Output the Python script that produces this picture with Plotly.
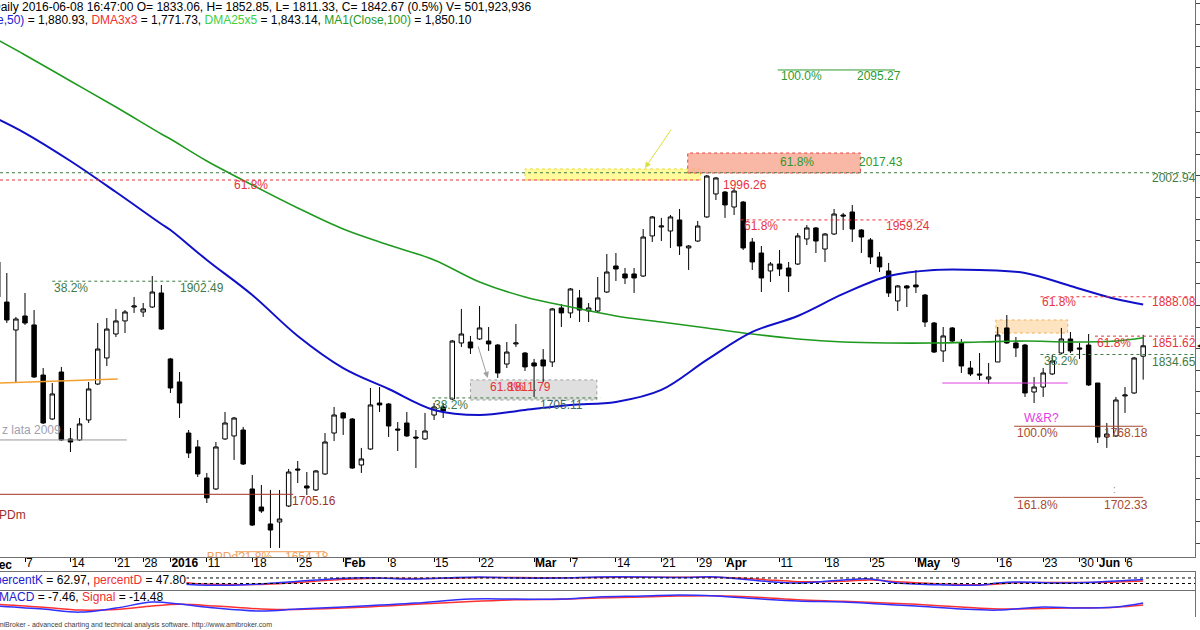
import plotly.graph_objects as go

# ---------------- data (trading-day index, 0 = 2015-12-07) ----------------
idx = list(range(-3, 124))
open_ = [1920.3, 1883.2, 1857.3, 1870.3, 1862.0, 1815.6, 1774.9, 1818.4, 1756.4, 1755.5,
         1774.0, 1807.3, 1831.4, 1853.6, 1865.7, 1878.6, 1874.0, 1878.6, 1891.6, 1830.5,
         1809.2, 1761.9, 1749.0, 1720.3, 1710.1, 1756.4, 1759.2, 1764.7, 1710.1, 1693.4,
         1677.7, 1679.5, 1694.3, 1728.6, 1712.9, 1709.2, 1724.0, 1761.9, 1780.5, 1774.9,
         1732.3, 1747.1, 1789.7, 1788.8, 1765.6, 1771.2, 1758.2, 1756.4, 1778.6, 1786.0,
         1793.4, 1845.3, 1846.2, 1849.0, 1847.1, 1843.4, 1825.8, 1844.4, 1836.0, 1826.8,
         1829.6, 1827.7, 1877.7, 1873.1, 1887.0, 1874.9, 1874.9, 1892.5, 1916.6, 1909.2,
         1909.2, 1907.3, 1944.4, 1952.7, 1949.0, 1959.2, 1933.3, 1939.7, 1962.0, 1983.3,
         1985.1, 1971.2, 1975.8, 1938.8, 1928.6, 1912.0, 1918.4, 1914.7, 1918.4, 1941.6,
         1951.8, 1932.3, 1946.2, 1963.8, 1966.6, 1949.9, 1940.7, 1924.9, 1912.0, 1884.2,
         1898.1, 1899.0, 1889.7, 1863.8, 1837.9, 1859.2, 1845.3, 1822.1, 1816.6, 1811.9,
         1827.7, 1859.2, 1845.3, 1843.4, 1799.9, 1804.5, 1816.6, 1836.0, 1849.0, 1840.7,
         1843.4, 1808.2, 1758.2, 1759.2, 1796.2, 1799.0, 1833.06]
high_ = [1926.8, 1910.1, 1869.4, 1891.6, 1875.8, 1822.1, 1808.2, 1823.1, 1766.6, 1775.8,
         1809.2, 1863.8, 1868.4, 1876.8, 1875.8, 1887.9, 1882.3, 1907.3, 1899.0, 1831.4,
         1818.4, 1764.7, 1755.5, 1724.9, 1753.6, 1781.4, 1776.8, 1767.5, 1723.0, 1713.8,
         1709.2, 1709.2, 1728.6, 1736.0, 1725.8, 1727.7, 1761.9, 1786.0, 1781.4, 1775.8,
         1748.1, 1803.6, 1804.5, 1789.7, 1772.1, 1781.4, 1764.7, 1780.5, 1789.7, 1789.7,
         1848.1, 1876.8, 1851.8, 1879.5, 1860.1, 1844.4, 1846.2, 1862.9, 1836.9, 1830.5,
         1839.7, 1877.7, 1881.4, 1896.2, 1894.4, 1882.3, 1906.4, 1927.7, 1928.6, 1914.7,
         1914.7, 1950.8, 1962.9, 1961.1, 1963.8, 1969.4, 1936.0, 1958.3, 2000.9, 1999.0,
         1986.0, 1988.8, 1976.8, 1942.5, 1935.1, 1920.3, 1931.4, 1920.3, 1947.1, 1954.5,
         1952.7, 1947.1, 1969.4, 1965.7, 1973.1, 1950.8, 1942.5, 1929.5, 1919.4, 1899.0,
         1899.0, 1912.9, 1890.7, 1864.7, 1860.1, 1860.1, 1849.0, 1828.6, 1836.0, 1826.8,
         1860.1, 1871.2, 1850.8, 1844.4, 1813.8, 1822.1, 1834.2, 1859.2, 1855.5, 1845.3,
         1853.6, 1808.2, 1771.2, 1795.3, 1804.5, 1832.3, 1852.85]
low_ = [1886.0, 1863.8, 1808.2, 1862.0, 1812.9, 1770.3, 1774.0, 1754.5, 1744.3, 1754.5,
        1771.2, 1806.4, 1824.0, 1850.8, 1854.5, 1873.1, 1869.4, 1877.7, 1857.3, 1799.0,
        1775.8, 1738.8, 1721.2, 1697.1, 1709.2, 1755.5, 1737.0, 1732.3, 1675.8, 1687.9,
        1655.5, 1655.5, 1693.4, 1715.6, 1704.5, 1708.2, 1723.0, 1754.5, 1760.1, 1728.6,
        1724.9, 1746.2, 1781.4, 1758.2, 1745.3, 1758.2, 1729.5, 1755.5, 1774.0, 1775.8,
        1792.5, 1841.6, 1835.1, 1848.1, 1837.9, 1812.9, 1822.1, 1841.6, 1819.4, 1795.3,
        1809.2, 1823.1, 1860.1, 1868.4, 1864.7, 1864.7, 1874.0, 1891.6, 1902.7, 1899.9,
        1891.6, 1906.4, 1938.8, 1939.7, 1933.3, 1926.8, 1912.9, 1938.8, 1961.1, 1977.7,
        1961.1, 1963.8, 1931.4, 1912.9, 1892.5, 1901.8, 1907.3, 1892.5, 1917.5, 1936.0,
        1928.6, 1920.3, 1945.3, 1949.9, 1938.8, 1928.6, 1918.4, 1911.0, 1887.9, 1874.9,
        1878.6, 1891.6, 1860.1, 1836.0, 1827.7, 1846.2, 1817.5, 1814.7, 1811.0, 1807.3,
        1827.7, 1844.4, 1832.3, 1795.3, 1789.7, 1795.3, 1815.6, 1835.1, 1836.0, 1830.5,
        1805.5, 1752.7, 1748.1, 1758.2, 1780.5, 1798.1, 1811.33]
close_ = [1887.9, 1866.6, 1867.5, 1863.8, 1813.8, 1771.2, 1798.1, 1755.5, 1753.6, 1770.3,
          1802.7, 1839.7, 1858.2, 1865.7, 1874.0, 1879.5, 1876.8, 1892.5, 1858.2, 1803.6,
          1789.7, 1743.4, 1724.0, 1701.8, 1749.0, 1771.2, 1775.8, 1733.2, 1676.7, 1689.7,
          1672.1, 1682.3, 1725.8, 1727.7, 1711.0, 1726.8, 1753.6, 1778.6, 1775.8, 1729.5,
          1737.9, 1787.9, 1787.9, 1768.4, 1764.7, 1759.2, 1757.3, 1763.8, 1786.0, 1782.3,
          1847.1, 1853.6, 1840.7, 1859.2, 1844.4, 1817.5, 1836.9, 1845.3, 1823.1, 1824.0,
          1824.0, 1876.8, 1873.1, 1895.3, 1875.8, 1877.7, 1887.0, 1911.0, 1913.8, 1905.5,
          1905.5, 1943.4, 1962.0, 1953.6, 1962.0, 1935.1, 1935.1, 1953.6, 1999.9, 1998.1,
          1973.1, 1986.0, 1933.3, 1920.3, 1905.5, 1918.4, 1913.8, 1907.3, 1944.4, 1951.8,
          1939.7, 1946.2, 1964.7, 1962.9, 1950.8, 1943.4, 1924.9, 1915.7, 1891.6, 1898.1,
          1896.2, 1897.2, 1864.7, 1836.9, 1851.8, 1847.1, 1824.0, 1816.6, 1815.6, 1813.8,
          1852.7, 1845.3, 1840.7, 1799.0, 1804.5, 1817.5, 1828.6, 1849.0, 1837.9, 1839.7,
          1806.4, 1758.2, 1761.0, 1792.5, 1797.1, 1831.4, 1842.67]

ma_x = [-3, 0, 5, 10, 15, 16, 20, 25, 30, 35, 40, 45, 50, 55, 60, 65, 70, 75, 80, 85,
        90, 95, 100, 105, 110, 115, 120, 123]
ma50 = [2052.7, 2039.7, 2013.8, 1985.1, 1955.5, 1949.9, 1922.2, 1889.7, 1851.8, 1822.1,
        1802.7, 1783.3, 1778.6, 1783.3, 1787.9, 1790.7, 1801.8, 1829.6, 1855.5, 1870.3,
        1890.7, 1907.3, 1912.9, 1912.9, 1910.1, 1898.1, 1886.0, 1880.93]
ma100 = [2125.9, 2112.0, 2087.9, 2063.8, 2038.8, 2034.2, 2013.8, 1991.6, 1970.3, 1950.8,
         1936.0, 1922.2, 1901.8, 1887.9, 1878.6, 1870.3, 1864.7, 1859.2, 1853.6, 1849.0,
         1846.2, 1845.3, 1845.3, 1846.2, 1847.1, 1846.2, 1847.1, 1850.10]

stoch_x = [-3, 2, 6, 10, 14, 16, 19, 23, 26, 29, 32, 36, 39, 42, 46, 50, 54, 59, 63, 68,
           72, 76, 81, 85, 90, 93, 96, 101, 105, 107, 109, 114, 118, 123]
stoch_k = [36, 25, 47, 58, 69, 25, 4, 2, 15, 36, 58, 80, 80, 69, 80, 91, 80, 80, 91, 91,
           85, 91, 47, 25, 58, 69, 25, 4, 2, 25, 36, 25, 36, 62.97]
stoch_d = [40, 30, 38, 52, 64, 45, 18, 8, 10, 25, 45, 68, 78, 75, 76, 84, 84, 82, 86, 89,
           88, 88, 65, 40, 45, 58, 40, 15, 6, 14, 28, 30, 32, 47.80]

macd_x = [-3, 2, 6, 10, 14, 17, 21, 26, 30, 35, 39, 43, 49, 54, 59, 63, 68, 72, 76, 81,
          85, 90, 94, 98, 103, 107, 112, 116, 120, 123]
macd = [-18, -28.5, -39, -25, -4, -11, -25, -35.5, -28.5, -21.5, -14.5, -7.5, 6.5, 6.5, 6.5,
        13.5, 17, 20.5, 17, 6.5, -0.5, -4, -11, -18, -28.5, -32, -21.5, -25, -21.5, -7.46]
signal = [-12, -22, -32, -30, -18, -12, -18, -28, -30, -25, -19, -12, -2, 4, 6, 10, 14, 17,
          18, 12, 4, -1, -6, -12, -21, -28, -26, -24, -22, -14.48]

tick_idx = [0, 5, 10, 13, 16, 20, 25, 30, 35, 40, 45, 50, 56, 60, 65, 70, 74, 77, 83, 88,
            93, 98, 102, 107, 112, 116, 118, 121]
tick_text = ["7", "14", "21", "28", "<b>2016</b>", "11", "18", "25", "<b>Feb</b>", "8", "15",
             "22", "<b>Mar</b>", "7", "14", "21", "29", "<b>Apr</b>", "11", "18", "25",
             "<b>May</b>", "9", "16", "23", "30", "<b>Jun</b>", "6"]

FONT = "Liberation Sans, Arial, sans-serif"
XR = [-2.75, 128.7]
RED = "#e8323c"
DGREEN = "#3f7a45"
GREEN = "#2e9a2e"
BROWN = "#a64b32"

fig = go.Figure()

fig.add_trace(go.Candlestick(
    x=idx, open=open_, high=high_, low=low_, close=close_,
    increasing=dict(line=dict(color="black", width=1), fillcolor="white"),
    decreasing=dict(line=dict(color="black", width=1), fillcolor="black"),
    whiskerwidth=0, showlegend=False, hoverinfo="skip", xaxis="x", yaxis="y"))

fig.add_trace(go.Scatter(x=ma_x, y=ma100, mode="lines", line=dict(color="#1f9a1f", width=1.6, shape="spline"),
                         showlegend=False, hoverinfo="skip", xaxis="x", yaxis="y"))
fig.add_trace(go.Scatter(x=ma_x, y=ma50, mode="lines", line=dict(color="#1010c8", width=2, shape="spline"),
                         showlegend=False, hoverinfo="skip", xaxis="x", yaxis="y"))

# label partly hidden by the bottom edge of the price pane
fig.add_trace(go.Scatter(x=[20.0, 28.6], y=[1646.5, 1646.5], mode="text",
                         text=["BPDd?1.8%", "1654.18"], textposition="middle right",
                         textfont=dict(color="#f0a060", size=12, family=FONT),
                         cliponaxis=True, showlegend=False, hoverinfo="skip", xaxis="x", yaxis="y"))

# stochastic
fig.add_trace(go.Scatter(x=stoch_x, y=stoch_d, mode="lines", line=dict(color="#ff3030", width=1.5, shape="spline"),
                         showlegend=False, hoverinfo="skip", xaxis="x2", yaxis="y2"))
fig.add_trace(go.Scatter(x=stoch_x, y=stoch_k, mode="lines", line=dict(color="#3030ff", width=1.5, shape="spline"),
                         showlegend=False, hoverinfo="skip", xaxis="x2", yaxis="y2"))
# MACD
fig.add_trace(go.Scatter(x=macd_x, y=signal, mode="lines", line=dict(color="#ff3030", width=1.5, shape="spline"),
                         showlegend=False, hoverinfo="skip", xaxis="x3", yaxis="y3"))
fig.add_trace(go.Scatter(x=macd_x, y=macd, mode="lines", line=dict(color="#3030ff", width=1.5, shape="spline"),
                         showlegend=False, hoverinfo="skip", xaxis="x3", yaxis="y3"))

shapes = []


def hline(y, x0, x1, color, dash="dot", width=1, xref="x", yref="y"):
    shapes.append(dict(type="line", xref=xref, yref=yref, x0=x0, x1=x1, y0=y, y1=y,
                       line=dict(color=color, width=width, dash=dash)))


def rect(x0, x1, y0, y1, fill, border):
    shapes.append(dict(type="rect", xref="x", yref="y", x0=x0, x1=x1, y0=y0, y1=y1,
                       fillcolor=fill, line=dict(color=border, width=1, dash="dot"), layer="below"))


rect(55.0, 74.3, 1996.2, 2006.4, "rgba(255,250,120,0.75)", "#e8d840")
rect(72.9, 91.9, 2002.7, 2021.2, "rgba(248,170,150,0.85)", "#e84040")
rect(49.0, 62.9, 1792.5, 1811.1, "rgba(210,210,210,0.7)", "#a0a0a0")
rect(106.8, 114.7, 1854.5, 1866.6, "rgba(253,220,175,0.8)", "#f0b060")

hline(2002.94, XR[0], XR[1], DGREEN)
hline(1996.2, XR[0], 74.3, RED)
hline(2098.1, 82.8, 95.7, GREEN, dash="solid")
hline(1959.24, 78.7, 99.0, RED)
hline(1902.49, 3.0, 20.9, DGREEN)
shapes.append(dict(type="line", xref="x", yref="y", x0=XR[0], x1=10.2, y0=1808.2, y1=1811.9,
                   line=dict(color="#f4a030", width=1.5)))
hline(1755.5, XR[0], 11.2, "#9a9aa0", dash="solid")
hline(1705.16, XR[0], 29.5, "#a0302a", dash="solid")
hline(1652.0, 23.1, 33.0, "#f0a060", dash="solid")
hline(1794.4, 44.8, 63.3, DGREEN)
hline(1888.08, 111.7, XR[1], RED)
hline(1851.62, 117.7, XR[1], RED)
hline(1834.65, 111.7, XR[1], DGREEN)
hline(1808.2, 100.9, 114.7, "#e040e0", dash="solid")
hline(1768.18, 108.8, 123.0, BROWN, dash="solid")
hline(1702.33, 108.8, 123.0, BROWN, dash="solid")
# stochastic reference levels
hline(80, XR[0], XR[1], "black", dash="dot", xref="x2", yref="y2")
hline(20, XR[0], XR[1], "black", dash="dot", xref="x2", yref="y2")

anns = []


def lab(text, x, y, color, size=12):
    anns.append(dict(text=text, x=x, y=y, xref="x", yref="y", xanchor="left", yanchor="middle",
                     showarrow=False, font=dict(color=color, size=size, family=FONT)))


lab("61.8%", 22.8, 1991.6, RED)
lab("38.2%", 3.0, 1896.2, DGREEN)
lab("1902.49", 16.8, 1896.2, DGREEN)
lab("z lata 2009", -2.75, 1764.7, "#a0a0b0")
lab("1705.16", 29.15, 1699.0, "#a0302a")
lab("38.2%", 44.8, 1787.9, DGREEN)
lab("1705.11", 56.4, 1787.9, "#3a6a6a")
lab("61.8%", 50.9, 1804.5, RED)
lab("1811.79", 52.9, 1804.5, RED)
lab("1996.26", 76.6, 1991.6, RED)
lab("61.8%", 78.9, 1953.6, RED)
lab("1959.24", 94.5, 1953.6, RED)
lab("100.0%", 82.9, 2092.5, GREEN)
lab("2095.27", 91.3, 2092.5, GREEN)
lab("61.8%", 82.8, 2012.9, GREEN)
lab("2017.43", 91.5, 2012.9, GREEN)
lab("2002.94", 123.8, 1998.1, DGREEN)
lab("61.8%", 111.7, 1883.2, RED)
lab("1888.08", 123.8, 1883.2, RED)
lab("61.8%", 117.7, 1845.3, RED)
lab("1851.62", 123.8, 1845.3, RED)
lab("38.2%", 111.9, 1828.6, DGREEN)
lab("1834.65", 123.8, 1827.7, DGREEN)
lab("W&R?", 109.7, 1775.8, "#e040e0")
lab("100.0%", 108.9, 1761.9, BROWN)
lab("1768.18", 118.5, 1761.9, BROWN)
lab("161.8%", 108.9, 1695.3, BROWN)
lab("1702.33", 118.5, 1695.3, BROWN)
lab(":", 119.5, 1709.2, "#909090", 10)

# arrows
anns.append(dict(x=68.2, y=2007.3, ax=71.2, ay=2044.4, xref="x", yref="y", axref="x", ayref="y",
                 showarrow=True, arrowhead=2, arrowsize=1.2, arrowwidth=1, arrowcolor="#d8e040", text=""))
anns.append(dict(x=50.9, y=1812.9, ax=49.8, ay=1843.4, xref="x", yref="y", axref="x", ayref="y",
                 showarrow=True, arrowhead=2, arrowsize=1.2, arrowwidth=1, arrowcolor="#a0a0a0", text=""))

W = 1195.0
H = 630.0


def ptext(text, px, py, size=12, color="black", bg=None):
    d = dict(text=text, x=px / W, y=1 - py / H, xref="paper", yref="paper",
             xanchor="left", yanchor="middle", showarrow=False,
             font=dict(color=color, size=size, family=FONT))
    if bg:
        d["bgcolor"] = bg
        d["borderpad"] = 0
    anns.append(d)


ptext("Daily 2016-06-08 16:47:00 O= 1833.06, H= 1852.85, L= 1811.33, C= 1842.67 (0.5%) V= 501,923,936", -10, 7)
ptext('<span style="color:#2020d0">MA(Close,50)</span> = 1,880.93, <span style="color:#f03030">DMA3x3</span> = 1,771.73, '
      '<span style="color:#40d040">DMA25x5</span> = 1,843.14, <span style="color:#1f9a1f">MA1(Close,100)</span> = 1,850.10',
      -51, 20)
ptext('<span style="color:#2020d0">percentK</span> = 62.97, <span style="color:#f03030">percentD</span> = 47.80',
      -6, 580, bg="white")
ptext('<span style="color:#2020d0">MACD</span> = -7.46, <span style="color:#f03030">Signal</span> = -14.48', -3, 597)
ptext("AmiBroker - advanced charting and technical analysis software. http://www.amibroker.com", -9, 625, 7, "#404040")
ptext("<b>Dec</b>", -12, 565)
ptext("PDm", -3, 515, 12, "#a0302a")
anns.append(dict(text="◀", x=1.0, y=1842.67, xref="paper", yref="y", xanchor="left", yanchor="middle",
                 showarrow=False, font=dict(color="black", size=8, family="DejaVu Sans")))

axis_common = dict(showgrid=False, zeroline=False, range=XR, fixedrange=True)

fig.update_layout(
    width=1200, height=630,
    margin=dict(l=0, r=5, t=0, b=0, pad=0),
    paper_bgcolor="white", plot_bgcolor="white",
    font=dict(family=FONT, size=12, color="black"),
    shapes=shapes, annotations=anns, showlegend=False,
    xaxis=dict(**axis_common, domain=[0, 1], anchor="y", tickmode="array", tickvals=tick_idx,
               ticktext=tick_text, ticks="outside", ticklen=4, tickcolor="black", tickangle=0,
               ticklabelposition="outside right", ticklabelstandoff=-5,
               tickfont=dict(size=12, family=FONT, color="black"),
               showline=True, linecolor="#707070", rangeslider=dict(visible=False), automargin=False),
    yaxis=dict(domain=[1 - 557 / H, 1], range=[1647.1, 2162.9], side="right", anchor="x",
               showticklabels=False, ticks="outside", ticklen=4, dtick=20, tick0=0,
               showline=True, linecolor="#707070", showgrid=False, zeroline=False, automargin=False),
    xaxis2=dict(**axis_common, domain=[0, 1], anchor="y2", showticklabels=False,
                showline=True, mirror=True, linecolor="#707070"),
    yaxis2=dict(domain=[1 - 590 / H, 1 - 572 / H], range=[-51, 145], side="right", anchor="x2",
                showticklabels=False, showline=True, linecolor="#707070", showgrid=False, zeroline=False),
    xaxis3=dict(**axis_common, domain=[0, 1], anchor="y3", showticklabels=False,
                showline=False),
    yaxis3=dict(domain=[1 - 617 / H, 1 - 590 / H], range=[-56, 38], side="right", anchor="x3",
                showticklabels=False, showline=True, linecolor="#707070", showgrid=False, zeroline=False),
)

fig.write_html("out.html", config={"displayModeBar": False, "staticPlot": True},
               post_script="document.body.style.margin='0px';document.body.style.overflow='hidden';")
